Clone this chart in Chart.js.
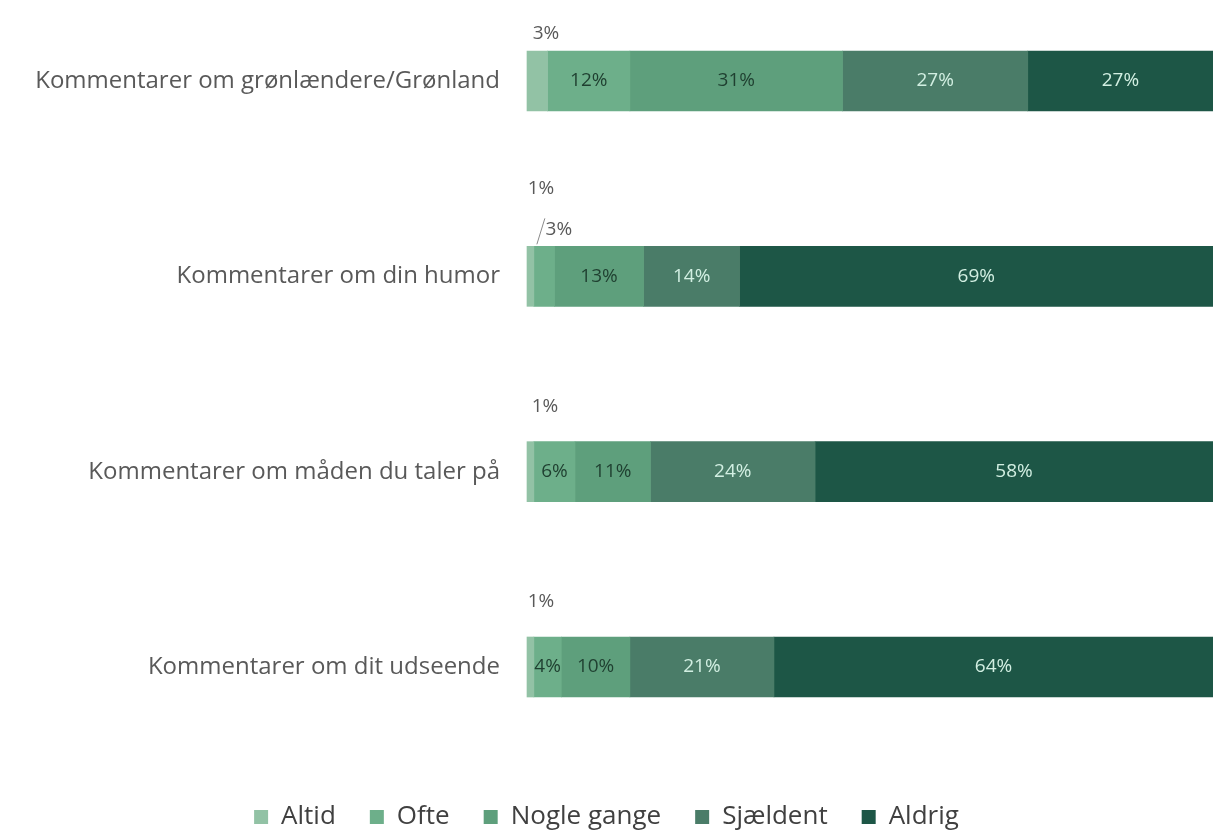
<!DOCTYPE html>
<html>
<head>
<meta charset="utf-8">
<script src="https://cdn.jsdelivr.net/npm/chart.js@4.4.1/dist/chart.umd.min.js"></script>
<style>
  html, body { margin: 0; padding: 0; background: #fff; }
</style>
</head>
<body>
<canvas id="myChart" width="1213" height="840"></canvas>
<script>
// ===============================
// DATA
// ===============================
const categories = [
    'Kommentarer om grønlændere/Grønland',
    'Kommentarer om din humor',
    'Kommentarer om måden du taler på',
    'Kommentarer om dit udseende'
];
const seriesNames = ['Altid', 'Ofte', 'Nogle gange', 'Sjældent', 'Aldrig'];
const altid      = [3, 1, 1, 1];
const ofte       = [12, 3, 6, 4];
const nogleGange = [31, 13, 11, 10];
const sjaeldent  = [27, 14, 24, 21];
const aldrig     = [27, 69, 58, 64];

const seriesValues = [altid, ofte, nogleGange, sjaeldent, aldrig];
const barColors  = ['#92c2a5', '#6daf8a', '#5e9f7c', '#4a7c68', '#1d5646'];
const textColors = ['#1f3f30', '#1f3f30', '#1f3f30', '#d2efe2', '#d2efe2'];

// labels that sit above the bar: [dataset][category] = [dx from bar left, dy above bar top]
const outside = {
    0: { 0: [19, 17], 1: [14, 58], 2: [18, 35], 3: [14, 35] },
    1: { 1: [25, 17] }
};

// ===============================
// LABEL PLUGIN
// ===============================
const barLabels = {
    id: 'barLabels',
    afterDatasetsDraw(chart) {
        const ctx = chart.ctx;
        ctx.save();
        ctx.font = '19px "Open Sans"';
        ctx.textAlign = 'center';
        ctx.textBaseline = 'middle';
        chart.data.datasets.forEach((ds, di) => {
            chart.getDatasetMeta(di).data.forEach((bar, i) => {
                const txt = ds.data[i] + '%';
                const left = Math.min(bar.x, bar.base);
                const right = Math.max(bar.x, bar.base);
                const top = bar.y - bar.height / 2;
                const o = outside[di] && outside[di][i];
                if (o) {
                    ctx.fillStyle = '#595959';
                    ctx.fillText(txt, left + o[0], top - o[1]);
                    if (di === 1) {
                        // leader line for the tiny "Ofte" slice
                        ctx.strokeStyle = '#8a8a8a';
                        ctx.lineWidth = 1;
                        ctx.beginPath();
                        ctx.moveTo(left + 3, top - 2);
                        ctx.lineTo(left + 11, top - 28);
                        ctx.stroke();
                    }
                } else {
                    ctx.fillStyle = textColors[di];
                    ctx.fillText(txt, (left + right) / 2, bar.y);
                }
            });
        });
        ctx.restore();
    }
};

// ===============================
// CHART
// ===============================
const ctx = document.getElementById('myChart').getContext('2d');

new Chart(ctx, {
    type: 'bar',
    data: {
        labels: categories,
        datasets: seriesNames.map((name, k) => ({
            label: name,
            data: seriesValues[k],
            backgroundColor: barColors[k],
            borderWidth: 0,
            barThickness: 60,
            clip: false
        }))
    },
    options: {
        indexAxis: 'y',
        responsive: false,
        animation: false,
        layout: { padding: { top: 81, left: 0, right: 0, bottom: 0 } },
        plugins: {
            tooltip: { enabled: false },
            legend: {
                position: 'bottom',
                labels: {
                    boxWidth: 14,
                    boxHeight: 14,
                    padding: 34,
                    color: '#404040',
                    font: { family: '"Open Sans"', size: 26 }
                }
            }
        },
        scales: {
            x: {
                stacked: true,
                min: 0,
                max: 100,
                ticks: { display: false },
                grid: { display: false },
                border: { display: false },
                afterFit: s => { s.height = 103; }
            },
            y: {
                stacked: true,
                offset: false,
                grid: { display: false },
                border: { display: false },
                ticks: {
                    color: '#595959',
                    padding: 19,
                    font: { family: '"Open Sans"', size: 24 }
                },
                afterFit: s => { s.width = 527; }
            }
        }
    },
    plugins: [barLabels]
});
</script>
</body>
</html>
